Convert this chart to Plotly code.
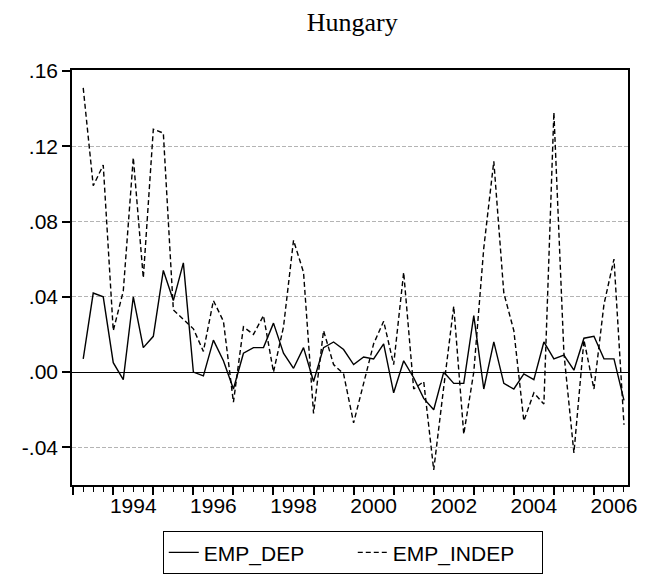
import plotly.graph_objects as go

# quarterly observations, 1993Q2 .. 2006Q4
start_year = 1993
start_quarter = 2
n_obs = 55

emp_dep = [0.007, 0.042, 0.040, 0.005, -0.004, 0.040, 0.013, 0.019, 0.054, 0.038,
           0.058, 0.000, -0.002, 0.017, 0.006, -0.009, 0.010, 0.013, 0.013, 0.026,
           0.010, 0.002, 0.013, -0.005, 0.013, 0.016, 0.012, 0.004, 0.008, 0.007,
           0.015, -0.011, 0.006, -0.003, -0.014, -0.020, 0.000, -0.006, -0.006, 0.030,
           -0.009, 0.016, -0.006, -0.009, -0.001, -0.004, 0.016, 0.007, 0.009, 0.001,
           0.018, 0.019, 0.007, 0.007, -0.015]

emp_indep = [0.151, 0.099, 0.110, 0.022, 0.043, 0.114, 0.050, 0.129, 0.127, 0.033,
             0.028, 0.023, 0.011, 0.038, 0.027, -0.016, 0.024, 0.020, 0.030, 0.000,
             0.024, 0.070, 0.053, -0.022, 0.022, 0.004, -0.001, -0.027, -0.006, 0.015,
             0.027, 0.004, 0.053, -0.009, -0.005, -0.052, -0.008, 0.035, -0.033, 0.000,
             0.066, 0.112, 0.042, 0.022, -0.026, -0.011, -0.017, 0.138, 0.010, -0.043,
             0.017, -0.009, 0.036, 0.060, -0.028]

year_labels = ["1994", "1996", "1998", "2000", "2002", "2004", "2006"]
y_tickvals = [-0.04, 0.0, 0.04, 0.08, 0.12, 0.16]
y_ticktext = ["-.04", ".00", ".04", ".08", ".12", ".16"]

# decimal-year position of each quarter
dates = [start_year + (start_quarter - 1 + k) / 4 for k in range(n_obs)]
x_range = [1992.97, 2006.85]

AXIS_FONT = {"family": "Liberation Sans, Arial, sans-serif", "size": 21, "color": "black"}

# the page body adds an 8px offset, so the figure is a bit smaller than the window
FIG_W, FIG_H = 635, 569

fig = go.Figure()
fig.add_trace(
    go.Scatter(
        x=dates,
        y=emp_dep,
        mode="lines",
        name="EMP_DEP",
        line={"color": "black", "width": 1.4},
    )
)
fig.add_trace(
    go.Scatter(
        x=dates,
        y=emp_indep,
        mode="lines",
        name="EMP_INDEP",
        line={"color": "black", "width": 1.4, "dash": "5px,3px"},
    )
)
# invisible carrier so the label axis is drawn
fig.add_trace(
    go.Scatter(
        x=[dates[0]],
        y=[emp_dep[0]],
        xaxis="x2",
        mode="lines",
        showlegend=False,
        hoverinfo="skip",
        line={"width": 0},
    )
)

fig.update_layout(
    width=FIG_W,
    height=FIG_H,
    paper_bgcolor="white",
    plot_bgcolor="white",
    margin={"l": 64, "r": 15, "t": 62, "b": 92, "autoexpand": False},
    title={
        "text": "Hungary",
        "x": 0.542,
        "xanchor": "center",
        "y": 1 - 14 / FIG_H,
        "yanchor": "middle",
        "yref": "container",
        "font": {"family": "Liberation Serif, Times New Roman, serif", "size": 26, "color": "black"},
    },
    showlegend=True,
    legend={
        "orientation": "h",
        "x": 0.505,
        "xanchor": "center",
        "y": -0.215,
        "yanchor": "bottom",
        "bordercolor": "black",
        "borderwidth": 1,
        "font": AXIS_FONT,
        "entrywidth": 144,
    },
    xaxis={
        "range": x_range,
        "tickmode": "array",
        "tickvals": list(range(1993, 2007)),
        "showticklabels": False,
        "ticks": "outside",
        "ticklen": 8,
        "tickwidth": 1.5,
        "tickcolor": "black",
        "minor": {"ticks": "outside", "dtick": 0.25, "tick0": 1993, "ticklen": 5,
                  "tickwidth": 1.2, "tickcolor": "black", "showgrid": False},
        "showgrid": False,
        "zeroline": False,
        "showline": True,
        "linecolor": "black",
        "linewidth": 1.5,
        "mirror": True,
    },
    xaxis2={
        "range": x_range,
        "overlaying": "x",
        "anchor": "y",
        "side": "bottom",
        "tickmode": "array",
        "tickvals": [int(label) + 0.5 for label in year_labels],
        "ticktext": year_labels,
        "ticks": "outside",
        "ticklen": 2,
        "tickcolor": "rgba(0,0,0,0)",
        "tickfont": AXIS_FONT,
        "showgrid": False,
        "zeroline": False,
        "showline": False,
    },
    yaxis={
        "range": [-0.06, 0.1605],
        "tickmode": "array",
        "tickvals": y_tickvals,
        "ticktext": y_ticktext,
        "tickfont": AXIS_FONT,
        "ticks": "outside",
        "ticklen": 8,
        "tickwidth": 1.5,
        "tickcolor": "black",
        "showgrid": True,
        "gridcolor": "#b4b4b4",
        "griddash": "4px,2px",
        "gridwidth": 1,
        "zeroline": True,
        "zerolinecolor": "black",
        "zerolinewidth": 1.2,
        "showline": True,
        "linecolor": "black",
        "linewidth": 1.5,
        "mirror": True,
    },
)

fig.write_html("out.html")
